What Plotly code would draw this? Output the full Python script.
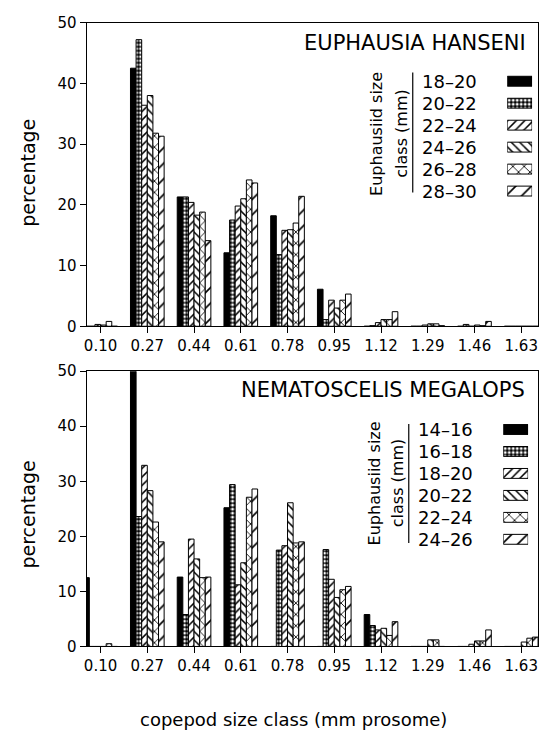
import plotly.graph_objects as go

# ---------------- data ----------------
categories = ["0.10", "0.27", "0.44", "0.61", "0.78", "0.95", "1.12", "1.29", "1.46", "1.63"]

top_title = "EUPHAUSIA HANSENI"
top_labels = ["18–20", "20–22", "22–24", "24–26", "26–28", "28–30"]
top_s0 = [0, 42.5, 21.3, 12.1, 18.2, 6.1, 0, 0, 0, 0]
top_s1 = [0, 47.2, 21.3, 17.5, 11.8, 1.1, 0.1, 0, 0.3, 0]
top_s2 = [0.3, 36.4, 20.4, 19.8, 15.8, 4.3, 0.6, 0.2, 0, 0]
top_s3 = [0.2, 38.0, 18.3, 21.0, 15.9, 3.0, 1.1, 0.4, 0.2, 0]
top_s4 = [0.8, 31.8, 18.8, 24.1, 17.0, 4.3, 1.1, 0.4, 0.1, 0]
top_s5 = [0, 31.3, 14.1, 23.6, 21.4, 5.3, 2.4, 0.1, 0.8, 0]

bot_title = "NEMATOSCELIS MEGALOPS"
bot_labels = ["14–16", "16–18", "18–20", "20–22", "22–24", "24–26"]
bot_s0 = [12.5, 50, 12.6, 25.2, 0, 0, 5.8, 0, 0, 0]
bot_s1 = [0, 23.6, 5.8, 29.4, 17.5, 17.6, 3.8, 0, 0, 0]
bot_s2 = [0, 32.9, 19.5, 11.2, 18.3, 12.2, 3.0, 0, 0.4, 0]
bot_s3 = [0, 28.3, 15.9, 15.2, 26.1, 8.9, 3.3, 1.2, 1.0, 0.8]
bot_s4 = [0.5, 22.6, 12.5, 27.1, 18.8, 10.3, 2.0, 1.2, 1.0, 1.5]
bot_s5 = [0, 19.0, 12.6, 28.6, 19.0, 10.9, 4.5, 0, 3.0, 1.7]

y_title = "percentage"
x_title = "copepod size class (mm prosome)"
legend_title_1 = "Euphausiid size"
legend_title_2 = "class (mm)"

# ---------------- styles ----------------
W, H = 548, 756
FONT = "DejaVu Sans"


def px(xp):
    return xp / W


def py(yp):
    return 1 - yp / H


styles = [
    dict(color="black", shape="", bg="black", fg="black", size=6, sol=0.3),
    dict(color="white", shape=".", bg="black", fg="white", size=4, sol=0.45),
    dict(color="white", shape="/", bg="white", fg="black", size=6, sol=0.25),
    dict(color="white", shape="\\", bg="white", fg="black", size=6, sol=0.25),
    dict(color="white", shape="x", bg="white", fg="black", size=8, sol=0.2),
    dict(color="white", shape="/", bg="white", fg="black", size=11, sol=0.15),
]


def marker_for(st):
    return dict(
        color=st["color"],
        line=dict(color="black", width=1),
        pattern=dict(shape=st["shape"], fillmode="replace", bgcolor=st["bg"],
                     fgcolor=st["fg"], size=st["size"], solidity=st["sol"]),
    )


fig = go.Figure()

top_series = [top_s0, top_s1, top_s2, top_s3, top_s4, top_s5]
bot_series = [bot_s0, bot_s1, bot_s2, bot_s3, bot_s4, bot_s5]

for i, vals in enumerate(top_series):
    fig.add_trace(go.Bar(x=categories, y=vals, name=top_labels[i], marker=marker_for(styles[i]),
                         xaxis="x", yaxis="y", offsetgroup=str(i), showlegend=False))
for i, vals in enumerate(bot_series):
    fig.add_trace(go.Bar(x=categories, y=vals, name=bot_labels[i], marker=marker_for(styles[i]),
                         xaxis="x2", yaxis="y2", offsetgroup=str(i), showlegend=False))

# legend swatches (drawn through inset axes, one trace per class)
for i in range(6):
    for xa, ya in (("x3", "y3"), ("x4", "y4")):
        fig.add_trace(go.Bar(x=[1], y=[i], orientation="h", width=0.45,
                             marker=marker_for(styles[i]), xaxis=xa, yaxis=ya,
                             showlegend=False, hoverinfo="skip"))

axis_common = dict(showline=True, linecolor="black", linewidth=1, mirror=True,
                   ticks="outside", tickcolor="black", ticklen=6, showgrid=False,
                   zeroline=False, tickfont=dict(family=FONT, size=15, color="black"))

xdom = [px(84), px(538)]
fig.update_layout(
    width=W, height=H, margin=dict(l=0, r=0, t=0, b=0),
    paper_bgcolor="white", plot_bgcolor="white",
    barmode="group", bargap=0.28, bargroupgap=0,
    font=dict(family=FONT, color="black"),
    xaxis=dict(domain=xdom, anchor="y", type="category", range=[-0.3, 9.36], **axis_common),
    yaxis=dict(domain=[py(325), py(14)], anchor="x", range=[0, 50], dtick=10, **axis_common),
    xaxis2=dict(domain=xdom, anchor="y2", type="category", range=[-0.3, 9.36], **axis_common),
    yaxis2=dict(domain=[py(653), py(371)], anchor="x2", range=[0, 50], dtick=10, **axis_common),
    xaxis3=dict(domain=[px(507), px(532)], anchor="y3", range=[0, 1], visible=False),
    yaxis3=dict(domain=[py(197.75), py(62.75)], anchor="x3", range=[5.5, -0.5], visible=False),
    xaxis4=dict(domain=[px(503), px(528)], anchor="y4", range=[0, 1], visible=False),
    yaxis4=dict(domain=[py(554.5), py(419.5)], anchor="x4", range=[5.5, -0.5], visible=False),
)

ann = []
# y titles
for yc in (py(168), py(518)):
    ann.append(dict(text=y_title, x=px(25), y=yc, xref="paper", yref="paper", textangle=-90,
                    xanchor="center", yanchor="middle", showarrow=False, font=dict(size=19)))
# x title
ann.append(dict(text=x_title, x=px(292), y=py(728), xref="paper", yref="paper",
                xanchor="center", yanchor="middle", showarrow=False, font=dict(size=18)))
# panel titles
ann.append(dict(text=top_title, x=px(528), y=py(35), xref="paper", yref="paper",
                xanchor="right", yanchor="middle", showarrow=False, font=dict(size=21)))
ann.append(dict(text=bot_title, x=px(527), y=py(390), xref="paper", yref="paper",
                xanchor="right", yanchor="middle", showarrow=False, font=dict(size=21)))
# legend labels
for i in range(6):
    ann.append(dict(text=top_labels[i], x=px(419), y=i, xref="paper", yref="y3",
                    xanchor="left", yanchor="middle", showarrow=False, font=dict(size=18)))
    ann.append(dict(text=bot_labels[i], x=px(415), y=i, xref="paper", yref="y4",
                    xanchor="left", yanchor="middle", showarrow=False, font=dict(size=18)))
# rotated legend titles
for xc, yc, t in [(376, 128, legend_title_1), (401, 128, legend_title_2),
                  (373, 486, legend_title_1), (397, 486, legend_title_2)]:
    ann.append(dict(text=t, x=px(xc), y=py(yc), xref="paper", yref="paper", textangle=-90,
                    xanchor="center", yanchor="middle", showarrow=False, font=dict(size=16)))
fig.update_layout(annotations=ann)

fig.update_layout(shapes=[
    dict(type="line", xref="paper", yref="paper", x0=px(412), x1=px(412), y0=py(65), y1=py(188),
         line=dict(color="black", width=1.2)),
    dict(type="line", xref="paper", yref="paper", x0=px(408), x1=px(408), y0=py(425), y1=py(547),
         line=dict(color="black", width=1.2)),
])

fig.write_html("out.html")
